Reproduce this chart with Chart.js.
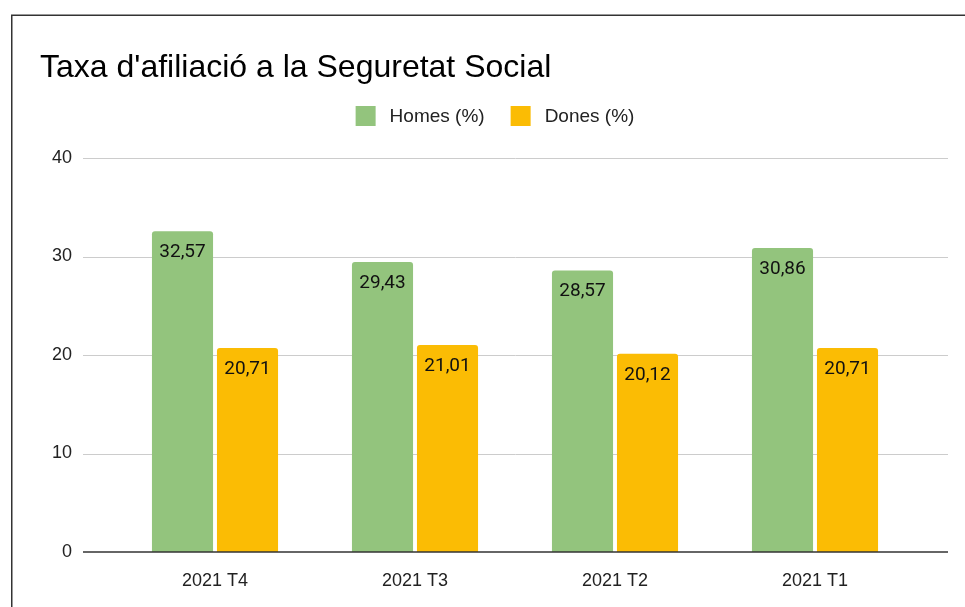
<!DOCTYPE html>
<html>
<head>
<meta charset="utf-8">
<script src="https://cdn.jsdelivr.net/npm/chart.js@4.4.1/dist/chart.umd.min.js"></script>
<style>
  body { margin: 0; background: #fff; }
  canvas { display: block; }
</style>
</head>
<body>
<canvas id="chart" width="965" height="607"></canvas>
<script>
const titleText = "Taxa d'afiliació a la Seguretat Social";
const categories = ["2021 T4", "2021 T3", "2021 T2", "2021 T1"];
const homes = [32.57, 29.43, 28.57, 30.86];
const dones = [20.71, 21.01, 20.12, 20.71];
const seriesNames = ["Homes (%)", "Dones (%)"];
const yTicks = [0, 10, 20, 30, 40];

const green = "#93c47d";
const yellow = "#fbbc04";

Chart.defaults.font.family = "'Liberation Sans', Arial, sans-serif";

// frame, title, legend and extended gridlines
const decor = {
  id: "decor",
  beforeDraw(chart) {
    const { ctx } = chart;
    ctx.save();
    ctx.fillStyle = "#fff";
    ctx.fillRect(0, 0, chart.width, chart.height);
    ctx.strokeStyle = "#333";
    ctx.lineWidth = 1.5;
    ctx.beginPath();
    ctx.moveTo(11.75, chart.height);
    ctx.lineTo(11.75, 15.25);
    ctx.lineTo(chart.width, 15.25);
    ctx.stroke();

    ctx.fillStyle = "#000";
    ctx.font = "32px 'Liberation Sans', Arial, sans-serif";
    ctx.textBaseline = "alphabetic";
    ctx.textAlign = "left";
    ctx.fillText(titleText, 40, 77);

    // legend
    ctx.font = "19px 'Liberation Sans', Arial, sans-serif";
    ctx.textBaseline = "middle";
    const items = chart.data.datasets.map(ds => ({
      text: ds.label, color: ds.backgroundColor, w: ctx.measureText(ds.label).width
    }));
    const total = items.reduce((s, it) => s + 20 + 14 + it.w, 0) + 26 * (items.length - 1);
    let x = 495 - total / 2;
    items.forEach(it => {
      ctx.fillStyle = it.color;
      ctx.fillRect(x, 106, 20, 20);
      ctx.fillStyle = "#222";
      ctx.fillText(it.text, x + 34, 117);
      x += 20 + 14 + it.w + 26;
    });

    // gridlines
    const y = chart.scales.y;
    const a = chart.chartArea;
    ctx.strokeStyle = "#cccccc";
    ctx.lineWidth = 1;
    yTicks.slice(1).forEach(v => {
      const py = Math.round(y.getPixelForValue(v)) + 0.5;
      ctx.beginPath();
      ctx.moveTo(a.left - 32, py);
      ctx.lineTo(a.right + 33, py);
      ctx.stroke();
    });
    ctx.restore();
  },
  afterDatasetsDraw(chart) {
    const { ctx } = chart;
    const a = chart.chartArea;
    ctx.save();
    // zero line
    const py = chart.scales.y.getPixelForValue(0);
    ctx.strokeStyle = "#333";
    ctx.lineWidth = 1.5;
    ctx.beginPath();
    ctx.moveTo(a.left - 32, py);
    ctx.lineTo(a.right + 33, py);
    ctx.stroke();

    // value labels
    ctx.font = "19px Roboto, sans-serif";
    ctx.fillStyle = "#111";
    ctx.textAlign = "center";
    ctx.textBaseline = "middle";
    chart.data.datasets.forEach((ds, i) => {
      chart.getDatasetMeta(i).data.forEach((bar, j) => {
        const txt = ds.data[j].toFixed(2).replace(".", ",");
        ctx.fillText(txt, bar.x, bar.y + 21);
      });
    });
    ctx.restore();
  }
};

new Chart(document.getElementById("chart"), {
  type: "bar",
  data: {
    labels: categories,
    datasets: [
      {
        label: seriesNames[0],
        data: homes,
        backgroundColor: green,
        borderRadius: { topLeft: 3, topRight: 3 },
        borderSkipped: "start",
        barPercentage: 0.94,
        categoryPercentage: 0.65,
      },
      {
        label: seriesNames[1],
        data: dones,
        backgroundColor: yellow,
        borderRadius: { topLeft: 3, topRight: 3 },
        borderSkipped: "start",
        barPercentage: 0.94,
        categoryPercentage: 0.65,
      },
    ],
  },
  options: {
    responsive: false,
    animation: false,
    layout: { padding: { top: 158, left: 40, right: 50, bottom: 0 } },
    plugins: {
      legend: { display: false },
      title: { display: false },
      tooltip: { enabled: false },
    },
    scales: {
      x: {
        grid: { display: false },
        border: { display: false },
        ticks: { color: "#222", font: { size: 18 }, padding: 10 },
        afterFit: s => { s.height = 55; },
      },
      y: {
        min: 0,
        max: 40,
        grid: { display: false },
        border: { display: false },
        ticks: { stepSize: 10, color: "#222", font: { size: 18 }, padding: 35 },
        afterFit: s => { s.width = 75; },
      },
    },
  },
  plugins: [decor],
});
</script>
</body>
</html>
